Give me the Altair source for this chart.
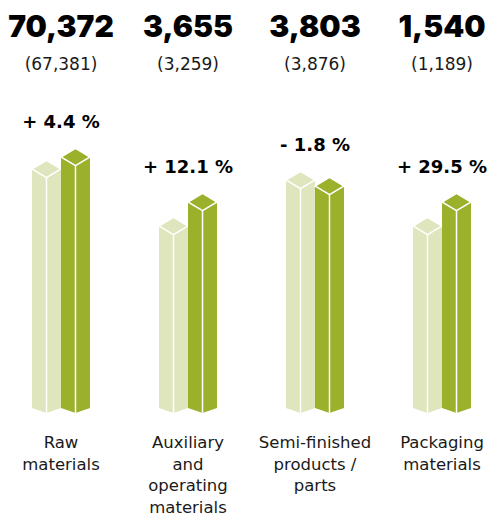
import altair as alt
import pandas as pd

# ---- data ----
categories = ["Raw materials", "Auxiliary and operating materials",
              "Semi-finished products / parts", "Packaging materials"]
label_lines = [["Raw", "materials"],
               ["Auxiliary", "and", "operating", "materials"],
               ["Semi-finished", "products /", "parts"],
               ["Packaging", "materials"]]
current = [70372, 3655, 3803, 1540]
previous = [67381, 3259, 3876, 1189]
change_label = ["+ 4.4 %", "+ 12.1 %", "- 1.8 %", "+ 29.5 %"]
# relative column heights as drawn (stylised, per group)
bar_prev = [239, 182, 228, 182]
bar_curr = [251, 206, 222, 206]

LIGHT = "#dfe5bd"
DARK = "#9bb02b"
BAR_W = 29
FONT_BIG = "Inter"
FONT = "DejaVu Sans"

groups = pd.DataFrame({
    "cat": categories,
    "current": current,
    "prev_txt": ["(" + f"{v:,}" + ")" for v in previous],
    "change": change_label,
    "label": ["\n".join(l) for l in label_lines],
    "top": [max(a, b) for a, b in zip(bar_prev, bar_curr)],
})

bars = pd.DataFrame({
    "cat": categories * 2,
    "series": ["prev"] * 4 + ["curr"] * 4,
    "h": bar_prev + bar_curr,
})

x = alt.X("cat:N",
          scale=alt.Scale(type="band", domain=categories, range=[-2.5, 505.5],
                          paddingInner=0, paddingOuter=0),
          axis=None)
yscale = alt.Scale(domain=[0, 300], range=[408, 108])

CAP = "M 0 -0.59 L 1 0 L 0 0.59 L -1 0 Z"
FOOT = "M -1 0 L 1 0 L 0 0.345 Z"


def column(series, color, off):
    base = (alt.Chart(bars)
            .transform_filter(alt.datum.series == series)
            .transform_calculate(zero="0"))
    body = base.mark_bar(width=BAR_W, xOffset=off, color=color).encode(
        x=x, y=alt.Y("h:Q", scale=yscale, axis=None), y2="zero:Q")
    foot = base.mark_point(shape=FOOT, size=BAR_W ** 2, filled=True, fill=color,
                           opacity=1, strokeWidth=0, xOffset=off).encode(
        x=x, y=alt.Y("zero:Q", scale=yscale, axis=None))
    line = base.mark_rule(color="white", strokeWidth=1.5, xOffset=off,
                          yOffset=8.5, y2Offset=5).encode(
        x=x, y=alt.Y("h:Q", scale=yscale, axis=None), y2="zero:Q")
    cap = base.mark_point(shape=CAP, size=BAR_W ** 2, filled=True, fill=color,
                          stroke="white", strokeWidth=1.5, opacity=1,
                          xOffset=off).encode(
        x=x, y=alt.Y("h:Q", scale=yscale, axis=None))
    return [body, foot, line, cap]


tbase = alt.Chart(groups)
big = tbase.mark_text(font=FONT_BIG, fontSize=30, fontWeight=900, color="black",
                      baseline="alphabetic").encode(
    x=x, y=alt.value(37), text=alt.Text("current:Q", format=","))
prev_t = tbase.mark_text(font=FONT, fontSize=17, color="#1a1a1a",
                         baseline="alphabetic").encode(
    x=x, y=alt.value(70), text="prev_txt:N")
pct = tbase.mark_text(font=FONT, fontSize=18, fontWeight="bold", color="black",
                      baseline="alphabetic", dy=-29).encode(
    x=x, y=alt.Y("top:Q", scale=yscale, axis=None), text="change:N")
labels = tbase.mark_text(font=FONT, fontSize=16.5, color="#1a1a1a",
                         baseline="alphabetic", lineBreak="\n",
                         lineHeight=21.5).encode(
    x=x, y=alt.value(448), text="label:N")

layers = column("prev", LIGHT, -14.5) + column("curr", DARK, 14.5) + [big, prev_t, pct, labels]

chart = alt.layer(*layers).properties(
    width=489, height=516, autosize="none", padding=0, background="white"
).configure_view(stroke=None)

chart.save("out.html", embed_options={"renderer": "svg", "actions": False})
